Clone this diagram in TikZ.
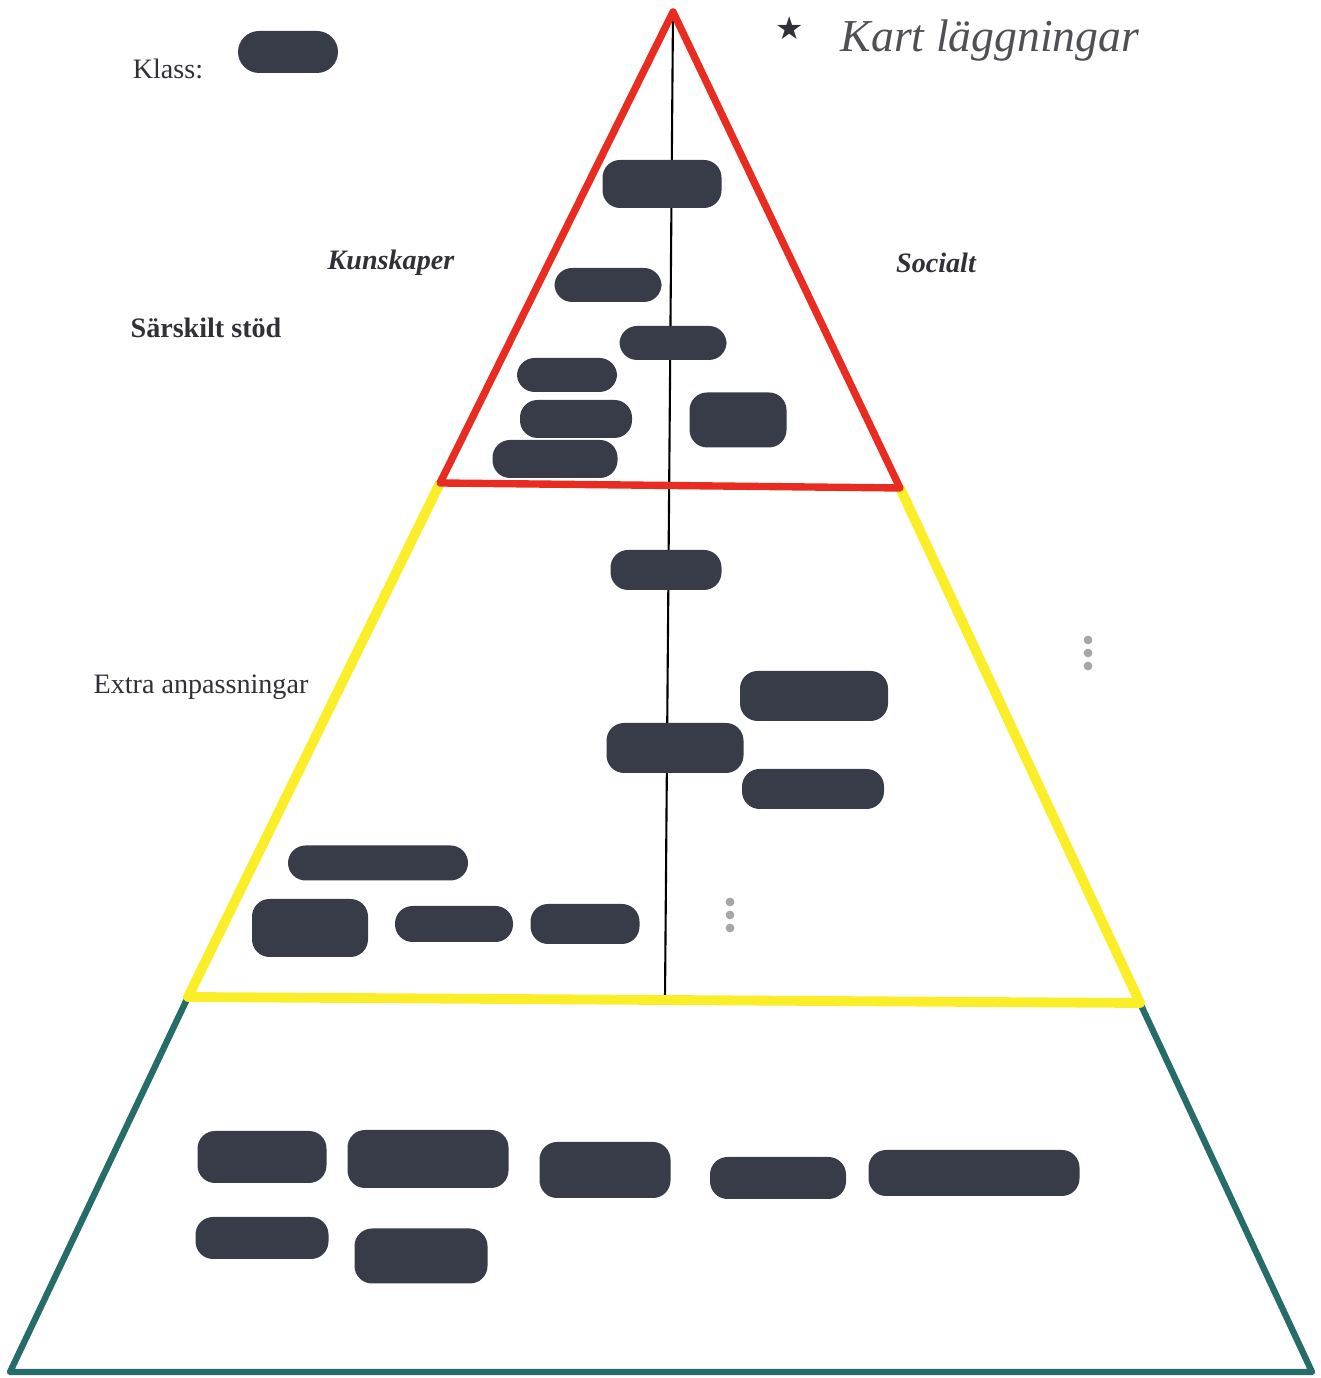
\documentclass[tikz,border=0pt]{standalone}
\usepackage{fontspec}
\setmainfont{Liberation Serif}
\newfontfamily\symfont{DejaVu Sans}
\usetikzlibrary{positioning}

\definecolor{pyrred}{RGB}{232,44,34}
\definecolor{pyryellow}{RGB}{250,238,40}
\definecolor{pyrteal}{RGB}{38,108,104}
\definecolor{blotgray}{RGB}{56,60,72}
\definecolor{inkgray}{RGB}{48,48,54}

\tikzset{
  blot/.style={fill=blotgray, rounded corners=5pt, inner sep=0pt},
  lbl/.style={text=inkgray, font=\fontsize{8}{10}\selectfont},
  speck/.style={fill=black!35, circle, inner sep=0pt, minimum size=2.5pt}
}

\begin{document}
\begin{tikzpicture}
    \useasboundingbox (0,0) rectangle (13.2,13.78);

    % corners of the pyramid
    \coordinate (apex) at (6.73,13.66);
    \coordinate (redL) at (4.40,8.95);
    \coordinate (redR) at (9.00,8.90);
    \coordinate (yelL) at (1.88,3.81);
    \coordinate (yelR) at (11.40,3.75);
    \coordinate (baseL) at (0.10,0.06);
    \coordinate (baseR) at (13.12,0.06);
    \coordinate (midfoot) at (6.65,3.80);

    \draw[black, line width=0.6pt] (apex) -- (midfoot);

    \draw[pyrteal, line width=1.8pt, line join=round] (yelL) -- (baseL) -- (baseR) -- (yelR);
    \draw[pyryellow, line width=2.8pt, line join=round] (redL) -- (yelL) -- (yelR) -- (redR);
    \draw[pyrred, line width=2.1pt, line join=round] (apex) -- (redL) -- (redR) -- cycle;

    % redacted marks
    \foreach \x/\y/\w/\h [count=\i] in {
        6.62/11.94/1.19/0.48, 6.08/10.93/1.07/0.34, 6.73/10.35/1.07/0.34,
        5.67/10.03/1.00/0.34, 5.76/9.59/1.12/0.38, 7.38/9.58/0.97/0.55,
        5.55/9.19/1.25/0.38,
        6.66/8.08/1.11/0.40, 8.14/6.82/1.48/0.50, 6.75/6.30/1.37/0.50,
        8.13/5.89/1.42/0.40, 3.78/5.15/1.80/0.35, 3.10/4.50/1.16/0.58,
        4.54/4.54/1.18/0.36, 5.85/4.54/1.09/0.40,
        2.62/2.21/1.29/0.52, 4.28/2.19/1.61/0.58, 6.05/2.08/1.31/0.56,
        7.78/2.00/1.36/0.42, 9.74/2.05/2.11/0.46, 2.62/1.40/1.33/0.42,
        4.21/1.22/1.33/0.55}
        \node[blot, minimum width=\w cm, minimum height=\h cm] (blot\i) at (\x,\y) {};

    % labels
    \node[lbl] (klass) at (1.68,13.09) {Klass:};
    \node[blot, minimum width=1.0cm, minimum height=0.42cm, rounded corners=6pt] (klassblot) at (2.88,13.26) {};
    \node[lbl, font=\fontsize{8}{10}\selectfont\bfseries\itshape] (kunskaper) at (3.91,11.15) {Kunskaper};
    \node[lbl, font=\fontsize{8}{10}\selectfont\bfseries\itshape] (socialt) at (9.36,11.15) {Socialt};
    \node[lbl, font=\fontsize{8}{10}\selectfont\bfseries] (sarskilt) at (2.06,10.50) {Särskilt stöd};
    \node[lbl] (extra) at (2.01,6.91) {Extra anpassningar};

    \node[text=inkgray, font=\symfont\fontsize{9}{10}\selectfont] (star) at (7.90,13.50) {★};
    \node[text=inkgray!85, font=\fontsize{13}{15}\selectfont\itshape] (kartl) at (9.90,13.37) {Kart läggningar};

    % stray marks
    \foreach \y [count=\i] in {7.38,7.25,7.12}
        \node[speck] (dotr\i) at (10.88,\y) {};
    \foreach \y [count=\i] in {4.76,4.63,4.50}
        \node[speck] (dotm\i) at (7.30,\y) {};
\end{tikzpicture}
\end{document}
